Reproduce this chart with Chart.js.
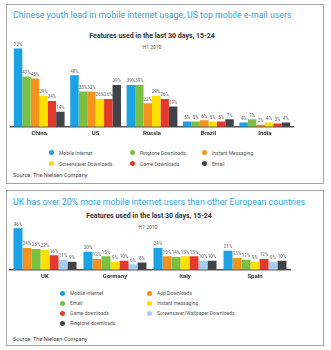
<!DOCTYPE html>
<html>
<head>
<meta charset="utf-8">
<script src="https://cdn.jsdelivr.net/npm/chart.js@4"></script>
<style>
  body { margin: 0; width: 331px; height: 350px; background: #fff; position: relative; font-family: Roboto, "Open Sans", sans-serif; overflow: hidden; }
  .panel { position: absolute; border: 1px solid #a4a4a4; box-sizing: border-box; }
  .txt { position: absolute; line-height: 1; white-space: nowrap; }
  .head { color: #35a6da; font-size: 8.8px; }
  .sub { color: #333; font-weight: bold; font-size: 7px; transform: translateX(-50%); }
  .h1 { color: #555; font-size: 5px; transform: translateX(-50%); }
  .src { color: #444; font-size: 5.6px; }
  .legend { position: absolute; display: grid; font-size: 5px; color: #555; }
  .legend div { display: flex; align-items: center; white-space: nowrap; }
  .legend span { display: inline-block; width: 5px; height: 5px; border-radius: 50%; margin-right: 5px; flex: none; }
  canvas { position: absolute; }
</style>
</head>
<body>
<div class="panel" style="left:6px;top:4px;width:318px;height:180px"></div>
<div class="panel" style="left:6px;top:190px;width:318px;height:156px"></div>

<div class="txt head" style="left:13px;top:10.5px">Chinese youth lead in mobile internet usage, US top mobile e-mail users</div>
<div class="txt sub" style="left:152px;top:33px">Features used in the last 30 days, 15-24</div>
<div class="txt h1" style="left:152px;top:44.5px">H1 2010</div>
<canvas id="chart1" style="left:6px;top:36px" width="318" height="104"></canvas>
<div class="legend" id="legend1" style="left:49px;top:147px;grid-template-columns:81px 72px 80px;grid-auto-rows:11px"></div>
<div class="txt src" style="left:13px;top:173px">Source: The Nielsen Company</div>

<div class="txt head" style="left:13px;top:197.5px">UK has over 20% more mobile internet users than other European countries</div>
<div class="txt sub" style="left:149px;top:213px">Features used in the last 30 days, 15-24</div>
<div class="txt h1" style="left:148px;top:224.5px">H1 2010</div>
<canvas id="chart2" style="left:6px;top:215px" width="318" height="68"></canvas>
<div class="legend" id="legend2" style="left:60px;top:288px;grid-template-columns:87px 100px;grid-auto-rows:10px"></div>
<div class="txt src" style="left:13px;top:337px">Source: The Nielsen Company</div>

<script>
// Datos del primer gráfico (países emergentes + US)
const regions1 = ['China', 'US', 'Russia', 'Brazil', 'India'];
const series1 = ['Mobile Internet', 'Ringtone Downloads', 'Instant Messaging', 'Screensaver Downloads', 'Game Downloads', 'Email'];
const mobileInternet1 = [73, 48, 39, 5, 4];
const ringtone1 = [47, 33, 39, 5, 7];
const instantMsg1 = [45, 33, 22, 6, 2];
const screensaver1 = [29, 26, 29, 5, 4];
const games1 = [24, 26, 26, 5, 3];
const email1 = [14, 39, 19, 7, 4];
const colors1 = ['#1ba2e3', '#7cc043', '#f5921e', '#ffdf00', '#e3392f', '#404448'];

// Datos del segundo gráfico (Europa)
const countries2 = ['UK', 'Germany', 'Italy', 'Spain'];
const series2 = ['Mobile internet', 'App Downloads', 'Email', 'Instant messaging', 'Game downloads', 'Screensaver/Wallpaper Downloads', 'Ringtone downloads'];
const mobileInternet2 = [46, 20, 24, 21];
const appDownloads2 = [24, 12, 15, 13];
const email2 = [23, 15, 14, 11];
const instantMsg2 = [22, 9, 15, 9];
const games2 = [16, 10, 15, 12];
const screensaver2 = [11, 6, 10, 9];
const ringtone2 = [9, 8, 10, 10];
const colors2 = ['#1ba2e3', '#f5921e', '#7cc043', '#ffdf00', '#e3392f', '#a6cdf0', '#404448'];

// Etiquetas de porcentaje encima de cada barra
const barLabels = {
    id: 'barLabels',
    afterDatasetsDraw(chart) {
        const ctx = chart.ctx;
        ctx.save();
        ctx.font = '4.5px Roboto';
        ctx.fillStyle = '#666';
        ctx.textAlign = 'center';
        ctx.textBaseline = 'bottom';
        chart.data.datasets.forEach((ds, i) => {
            chart.getDatasetMeta(i).data.forEach((bar, j) => {
                ctx.fillText(ds.data[j] + '%', bar.x, bar.y - 1.5);
            });
        });
        ctx.restore();
    }
};

function crearGrafico(id, labels, names, values, colors, yMax, padding) {
    return new Chart(document.getElementById(id), {
        type: 'bar',
        data: {
            labels: labels,
            datasets: names.map((name, i) => ({
                label: name,
                data: values[i],
                backgroundColor: colors[i],
                categoryPercentage: 0.9,
                barPercentage: 1
            }))
        },
        options: {
            responsive: false,
            animation: false,
            layout: { padding: padding },
            plugins: { legend: { display: false }, tooltip: { enabled: false } },
            scales: {
                x: {
                    grid: { display: false, drawTicks: false },
                    border: { display: true, color: '#555', width: 1.5 },
                    ticks: { color: '#333', padding: 3, font: { family: 'Roboto', size: 6, weight: 'bold' } }
                },
                y: { display: false, min: 0, max: yMax }
            }
        },
        plugins: [barLabels]
    });
}

// Leyenda HTML en columnas
function crearLeyenda(id, names, colors) {
    const box = document.getElementById(id);
    names.forEach((name, i) => {
        const item = document.createElement('div');
        const dot = document.createElement('span');
        dot.style.background = colors[i];
        item.appendChild(dot);
        item.appendChild(document.createTextNode(name));
        box.appendChild(item);
    });
}

crearGrafico('chart1', regions1, series1,
    [mobileInternet1, ringtone1, instantMsg1, screensaver1, games1, email1],
    colors1, 80, { top: 5, left: 5, right: 31, bottom: 0 });
crearGrafico('chart2', countries2, series2,
    [mobileInternet2, appDownloads2, email2, instantMsg2, games2, screensaver2, ringtone2],
    colors2, 55, { top: 5, left: 4, right: 34, bottom: 0 });

crearLeyenda('legend1', series1, colors1);
crearLeyenda('legend2', series2, colors2);
</script>
</body>
</html>
